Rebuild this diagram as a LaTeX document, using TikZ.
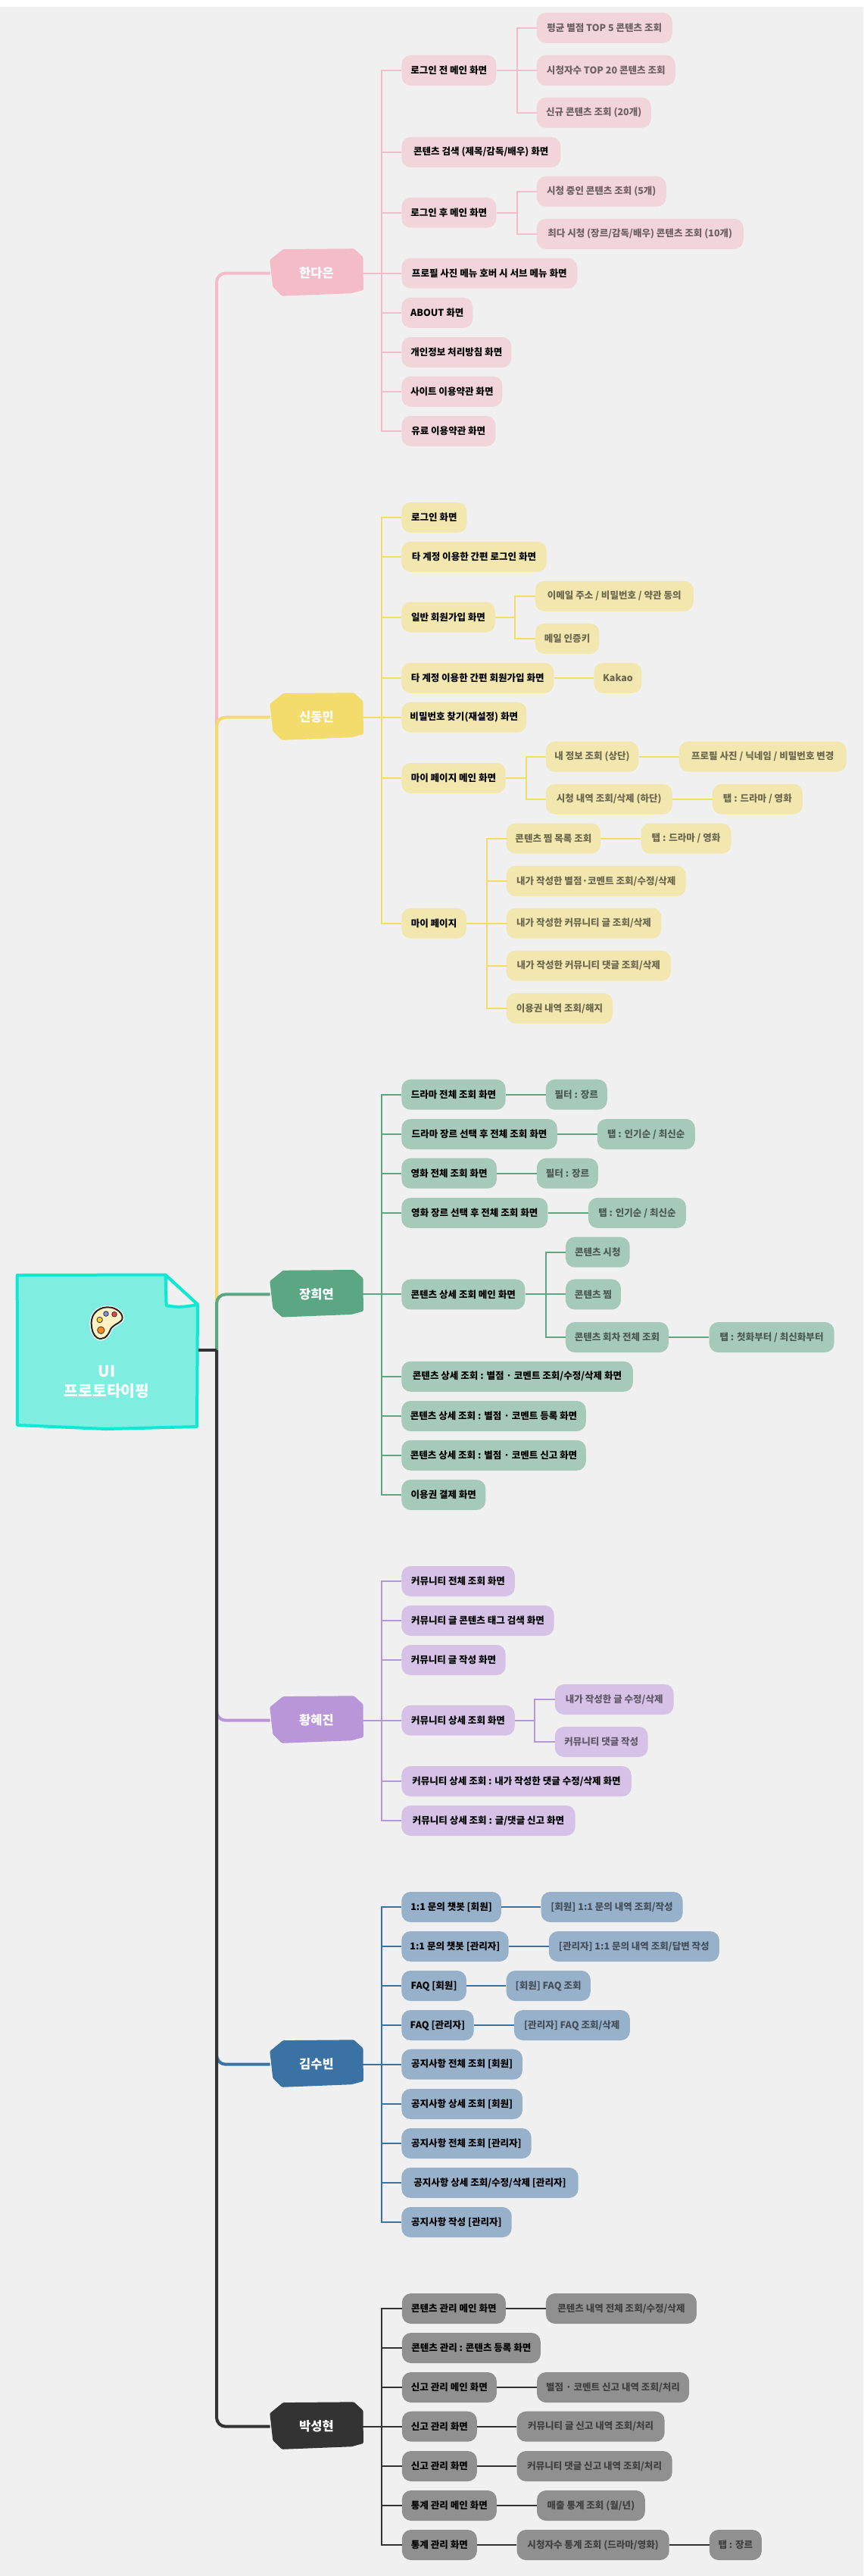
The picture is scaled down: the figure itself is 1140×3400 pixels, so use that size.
\documentclass[tikz,border=0pt]{standalone}
\usepackage{fontspec}
\setmainfont{Noto Sans CJK KR}
\definecolor{bgcol}{HTML}{F0F0F0}
\definecolor{pinkline}{HTML}{F4BBC8}
\definecolor{pinkfill}{HTML}{F2D5DB}
\definecolor{yellowline}{HTML}{F3DC6B}
\definecolor{yellowfill}{HTML}{F2E7AE}
\definecolor{greenline}{HTML}{5BA783}
\definecolor{greenfill}{HTML}{A6CAB9}
\definecolor{purpleline}{HTML}{B996D8}
\definecolor{purplefill}{HTML}{D5C2E6}
\definecolor{blueline}{HTML}{3B72A4}
\definecolor{bluefill}{HTML}{97B1CB}
\definecolor{darkline}{HTML}{333333}
\definecolor{darkfill}{HTML}{909090}
\definecolor{rootline}{HTML}{0FE8D2}
\definecolor{rootfill}{HTML}{80EDE1}
\definecolor{palettefill}{HTML}{FFF2C4}
\definecolor{dotblue}{HTML}{7A90E0}
\definecolor{dotred}{HTML}{EE4040}
\definecolor{dotyellow}{HTML}{FFCC22}
\definecolor{dotorange}{HTML}{FF8C1A}
\tikzset{
	box/.style={anchor=west,rounded corners=9pt,minimum height=30pt,inner xsep=1pt,inner ysep=0pt,
		font=\bfseries\fontsize{9.4pt}{11pt}\selectfont},
	wd/.style={minimum width=#1*0.75pt},
	main/.style={box,fill=#1},
	sub/.style={box,fill=#1,text opacity=0.55},
	headbox/.style={minimum width=91.5pt,minimum height=46.5pt,inner sep=0pt,text=white,
		font=\bfseries\fontsize{12.4pt}{14pt}\selectfont},
	link/.style={line width=1.5pt,draw=#1},
	trunk/.style={line width=3pt,draw=#1,rounded corners=9pt},
}

\begin{document}
\begin{tikzpicture}[x=0.75pt,y=-0.75pt]
\useasboundingbox (0,0) rectangle (1140,3400);
\fill[white] (0,0) rectangle (1140,9);
\fill[bgcol] (0,9) rectangle (1140,3400);

% root note
\draw[rootline,fill=rootfill,line width=3pt,line join=round] (22.7,1683) -- (218.3,1682.5) -- (261,1721.7) -- (260,1883) -- (140,1886) -- (23,1881) -- cycle;
\draw[rootline,fill=bgcol,line width=3pt,line join=round] (218.6,1683) -- (219.6,1723) .. controls (233,1726) and (247,1725) .. (261,1721.7) -- cycle;
\node[text=white,align=center,font=\bfseries\fontsize{15.3pt}{19.5pt}\selectfont] (rootlabel) at (141,1824) {UI\\프로토타이핑};
\coordinate (rootout) at (262,1782);
\coordinate (hub) at (286,1782);

% palette
\draw[draw=white,line width=3.4pt,fill=white] (120.7,1747.3) .. controls (120,1731.7) and (133.3,1723.3) .. (146.7,1725.7) .. controls (158.3,1727.7) and (165,1738.3) .. (160,1743.3) .. controls (155,1748.3) and (148.3,1748.3) .. (145,1756.7) .. controls (141.7,1765) and (135,1769.3) .. (128.3,1765.7) .. controls (123.3,1762.7) and (121,1755.3) .. cycle;
\draw[draw=black!85,line width=1.5pt,fill=palettefill] (120.7,1747.3) .. controls (120,1731.7) and (133.3,1723.3) .. (146.7,1725.7) .. controls (158.3,1727.7) and (165,1738.3) .. (160,1743.3) .. controls (155,1748.3) and (148.3,1748.3) .. (145,1756.7) .. controls (141.7,1765) and (135,1769.3) .. (128.3,1765.7) .. controls (123.3,1762.7) and (121,1755.3) .. cycle;
\draw[black!80,fill=dotblue,line width=0.6pt] (140,1734) circle (3.3);
\draw[black!80,fill=dotred,line width=0.6pt] (151,1734.7) circle (3.3);
\draw[black!80,fill=dotyellow,line width=0.6pt] (131.7,1742) circle (3.7);
\draw[black!80,fill=dotorange,line width=0.6pt] (133.3,1755.7) circle (4.7);

% heads
\foreach \nm/\yy/\col/\txt in {l1/360.6/pinkline/한다은,l2/946.7/yellowline/신동민,l3/1708.4/greenline/장희연,l4/2270.7/purpleline/황혜진,l5/2724.7/blueline/김수빈,l6/3202.7/darkline/박성현}{
	\fill[\col,rounded corners=1pt,shift={(418,\yy)}] (-61.7,-17.4) -- (-44.3,-31.6) -- (49.4,-32.4) -- (61.5,-21.3) -- (61.9,22.2) -- (46.3,26.5) -- (-45.7,30.1) -- (-57.7,18.2) -- cycle;
	\node[headbox] (\nm) at (418,\yy) {\raisebox{-1.5pt}{\txt}};
}

% 한다은
\node[main=pinkfill,wd=125] (a1) at (530,92.9) {로그인 전 메인 화면};
\node[main=pinkfill,wd=210] (a2) at (530,200.9) {콘텐츠 검색 (제목/감독/배우) 화면};
\node[main=pinkfill,wd=125] (a3) at (530,280.7) {로그인 후 메인 화면};
\node[main=pinkfill,wd=232] (a4) at (530,360.6) {프로필 사진 메뉴 호버 시 서브 메뉴 화면};
\node[main=pinkfill,wd=94] (a5) at (530,412.8) {ABOUT 화면};
\node[main=pinkfill,wd=145] (a6) at (530,465) {개인정보 처리방침 화면};
\node[main=pinkfill,wd=133] (a7) at (530,516.8) {사이트 이용약관 화면};
\node[main=pinkfill,wd=124] (a8) at (530,569) {유료 이용약관 화면};
\node[sub=pinkfill,wd=179] (a11) at (708.5,36.8) {평균 별점 TOP 5 콘텐츠 조회};
\node[sub=pinkfill,wd=183] (a12) at (708.5,92.9) {시청자수 TOP 20 콘텐츠 조회};
\node[sub=pinkfill,wd=151] (a13) at (708.5,148.7) {신규 콘텐츠 조회 (20개)};
\node[sub=pinkfill,wd=171] (a31) at (708.5,252.7) {시청 중인 콘텐츠 조회 (5개)};
\node[sub=pinkfill,wd=273] (a32) at (708.5,308.8) {최다 시청 (장르/감독/배우) 콘텐츠 조회 (10개)};
\foreach \n in {1,...,8}
	\draw[link=pinkline] (l1.east) -- ++(24.5,0) |- (a\n.west);
\foreach \n in {a11,a12,a13}
	\draw[link=pinkline] (a1.east) -- ++(27,0) |- (\n.west);
\foreach \n in {a31,a32}
	\draw[link=pinkline] (a3.east) -- ++(27,0) |- (\n.west);

% 신동민
\node[main=yellowfill,wd=86] (b1) at (530,683) {로그인 화면};
\node[main=yellowfill,wd=191.5] (b2) at (530,734.9) {타 계정 이용한 간편 로그인 화면};
\node[main=yellowfill,wd=123.5] (b3) at (530,814.6) {일반 회원가입 화면};
\node[main=yellowfill,wd=201] (b4) at (530,894.8) {타 계정 이용한 간편 회원가입 화면};
\node[main=yellowfill,wd=165] (b5) at (530,946.7) {비밀번호 찾기(재설정) 화면};
\node[main=yellowfill,wd=137.4] (b6) at (530,1027) {마이 페이지 메인 화면};
\node[main=yellowfill,wd=85.5] (b7) at (530,1218.6) {마이 페이지};
\node[sub=yellowfill,wd=209] (b31) at (706.5,786.8) {이메일 주소 / 비밀번호 / 약관 동의};
\node[sub=yellowfill,wd=84.5] (b32) at (706.5,842.9) {메일 인증키};
\node[sub=yellowfill,wd=63] (b41) at (784.2,894.8) {Kakao};
\node[sub=yellowfill,wd=122.5] (b61) at (720.5,998.7) {내 정보 조회 (상단)};
\node[sub=yellowfill,wd=220.7] (b611) at (896.7,998.7) {프로필 사진 / 닉네임 / 비밀번호 변경};
\node[sub=yellowfill,wd=167] (b62) at (720.5,1054.8) {시청 내역 조회/삭제 (하단)};
\node[sub=yellowfill,wd=119] (b621) at (940.6,1054.8) {탭 : 드라마 / 영화};
\node[sub=yellowfill,wd=124.3] (b71) at (668.5,1106.7) {콘텐츠 찜 목록 조회};
\node[sub=yellowfill,wd=119] (b711) at (846.3,1106.7) {탭 : 드라마 / 영화};
\node[sub=yellowfill,wd=237] (b72) at (668.5,1162.9) {내가 작성한 별점·코멘트 조회/수정/삭제};
\node[sub=yellowfill,wd=204.6] (b73) at (668.5,1218.6) {내가 작성한 커뮤니티 글 조회/삭제};
\node[sub=yellowfill,wd=217] (b74) at (668.5,1274.7) {내가 작성한 커뮤니티 댓글 조회/삭제};
\node[sub=yellowfill,wd=140.3] (b75) at (668.5,1330.9) {이용권 내역 조회/해지};
\foreach \n in {1,...,7}
	\draw[link=yellowline] (l2.east) -- ++(24.5,0) |- (b\n.west);
\foreach \n in {b31,b32}
	\draw[link=yellowline] (b3.east) -- ++(26.3,0) |- (\n.west);
\foreach \n in {b61,b62}
	\draw[link=yellowline] (b6.east) -- ++(26.8,0) |- (\n.west);
\foreach \n in {b71,b72,b73,b74,b75}
	\draw[link=yellowline] (b7.east) -- ++(26.8,0) |- (\n.west);
\foreach \a/\b in {b4/b41,b61/b611,b62/b621,b71/b711}
	\draw[link=yellowline] (\a) -- (\b);

% 장희연
\node[main=greenfill,wd=137.4] (c1) at (530,1444.7) {드라마 전체 조회 화면};
\node[main=greenfill,wd=205.5] (c2) at (530,1496.9) {드라마 장르 선택 후 전체 조회 화면};
\node[main=greenfill,wd=125.7] (c3) at (530,1548.7) {영화 전체 조회 화면};
\node[main=greenfill,wd=193] (c4) at (530,1600.9) {영화 장르 선택 후 전체 조회 화면};
\node[main=greenfill,wd=163] (c5) at (530,1708.4) {콘텐츠 상세 조회 메인 화면};
\node[main=greenfill,wd=305.6] (c6) at (530,1816.8) {콘텐츠 상세 조회 : 별점 · 코멘트 조회/수정/삭제 화면};
\node[main=greenfill,wd=243.5] (c7) at (530,1869) {콘텐츠 상세 조회 : 별점 · 코멘트 등록 화면};
\node[main=greenfill,wd=243.5] (c8) at (530,1920.8) {콘텐츠 상세 조회 : 별점 · 코멘트 신고 화면};
\node[main=greenfill,wd=111] (c9) at (530,1973) {이용권 결제 화면};
\node[sub=greenfill,wd=81] (c11) at (720.5,1444.7) {필터 : 장르};
\node[sub=greenfill,wd=129] (c21) at (788.5,1496.9) {탭 : 인기순 / 최신순};
\node[sub=greenfill,wd=81] (c31) at (708.7,1548.7) {필터 : 장르};
\node[sub=greenfill,wd=129] (c41) at (776.7,1600.9) {탭 : 인기순 / 최신순};
\node[sub=greenfill,wd=84.6] (c51) at (746.7,1652.7) {콘텐츠 시청};
\node[sub=greenfill,wd=73] (c52) at (746.7,1708.4) {콘텐츠 찜};
\node[sub=greenfill,wd=136] (c53) at (746.7,1765) {콘텐츠 회차 전체 조회};
\node[sub=greenfill,wd=165] (c531) at (936.3,1765) {탭 : 첫화부터 / 최신화부터};
\foreach \n in {1,...,9}
	\draw[link=greenline] (l3.east) -- ++(24.5,0) |- (c\n.west);
\foreach \n in {c51,c52,c53}
	\draw[link=greenline] (c5.east) -- ++(27,0) |- (\n.west);
\foreach \a/\b in {c1/c11,c2/c21,c3/c31,c4/c41,c53/c531}
	\draw[link=greenline] (\a) -- (\b);

% 황혜진
\node[main=purplefill,wd=149.5] (d1) at (530,2087) {커뮤니티 전체 조회 화면};
\node[main=purplefill,wd=201.3] (d2) at (530,2139) {커뮤니티 글 콘텐츠 태그 검색 화면};
\node[main=purplefill,wd=137.4] (d3) at (530,2191) {커뮤니티 글 작성 화면};
\node[main=purplefill,wd=149.5] (d4) at (530,2270.7) {커뮤니티 상세 조회 화면};
\node[main=purplefill,wd=303.5] (d5) at (530,2351) {커뮤니티 상세 조회 : 내가 작성한 댓글 수정/삭제 화면};
\node[main=purplefill,wd=229.4] (d6) at (530,2403) {커뮤니티 상세 조회 : 글/댓글 신고 화면};
\node[sub=purplefill,wd=156.7] (d41) at (732.6,2243) {내가 작성한 글 수정/삭제};
\node[sub=purplefill,wd=122.8] (d42) at (732.6,2299) {커뮤니티 댓글 작성};
\foreach \n in {1,...,6}
	\draw[link=purpleline] (l4.east) -- ++(24.5,0) |- (d\n.west);
\foreach \n in {d41,d42}
	\draw[link=purpleline] (d4.east) -- ++(26.3,0) |- (\n.west);

% 김수빈
\node[main=bluefill,wd=131.6] (e1) at (530,2517) {1:1 문의 챗봇 [회원]};
\node[main=bluefill,wd=141.4] (e2) at (530,2569) {1:1 문의 챗봇 [관리자]};
\node[main=bluefill,wd=85.6] (e3) at (530,2621) {FAQ [회원]};
\node[main=bluefill,wd=95.4] (e4) at (530,2673) {FAQ [관리자]};
\node[main=bluefill,wd=159.7] (e5) at (530,2724.7) {공지사항 전체 조회 [회원]};
\node[main=bluefill,wd=159.7] (e6) at (530,2777) {공지사항 상세 조회 [회원]};
\node[main=bluefill,wd=171.3] (e7) at (530,2829) {공지사항 전체 조회 [관리자]};
\node[main=bluefill,wd=233.4] (e8) at (530,2881) {공지사항 상세 조회/수정/삭제 [관리자]};
\node[main=bluefill,wd=145.4] (e9) at (530,2933) {공지사항 작성 [관리자]};
\node[sub=bluefill,wd=187] (e11) at (714.3,2517) {[회원] 1:1 문의 내역 조회/작성};
\node[sub=bluefill,wd=225] (e21) at (724.6,2569) {[관리자] 1:1 문의 내역 조회/답변 작성};
\node[sub=bluefill,wd=111.2] (e31) at (668.3,2621) {[회원] FAQ 조회};
\node[sub=bluefill,wd=153] (e41) at (678.6,2673) {[관리자] FAQ 조회/삭제};
\foreach \n in {1,...,9}
	\draw[link=blueline] (l5.east) -- ++(24.5,0) |- (e\n.west);
\foreach \a/\b in {e1/e11,e2/e21,e3/e31,e4/e41}
	\draw[link=blueline] (\a) -- (\b);

% 박성현
\node[main=darkfill,wd=137] (f1) at (530.6,3047) {콘텐츠 관리 메인 화면};
\node[main=darkfill,wd=183] (f2) at (530.6,3099) {콘텐츠 관리 : 콘텐츠 등록 화면};
\node[main=darkfill,wd=125] (f3) at (530.6,3151) {신고 관리 메인 화면};
\node[main=darkfill,wd=99] (f4) at (530.6,3202.7) {신고 관리 화면};
\node[main=darkfill,wd=99] (f5) at (530.6,3255) {신고 관리 화면};
\node[main=darkfill,wd=125] (f6) at (530.6,3307) {통계 관리 메인 화면};
\node[main=darkfill,wd=99] (f7) at (530.6,3359) {통계 관리 화면};
\node[sub=darkfill,wd=199] (f11) at (720.7,3047) {콘텐츠 내역 전체 조회/수정/삭제};
\node[sub=darkfill,wd=201] (f31) at (708.8,3151) {별점 · 코멘트 신고 내역 조회/처리};
\node[sub=darkfill,wd=195] (f41) at (682.4,3202.7) {커뮤니티 글 신고 내역 조회/처리};
\node[sub=darkfill,wd=205] (f51) at (682.4,3255) {커뮤니티 댓글 신고 내역 조회/처리};
\node[sub=darkfill,wd=142.7] (f61) at (708.8,3307) {매출 통계 조회 (월/년)};
\node[sub=darkfill,wd=201] (f71) at (682.4,3359) {시청자수 통계 조회 (드라마/영화)};
\node[sub=darkfill,wd=69] (f711) at (936.6,3359) {탭 : 장르};
\foreach \n in {1,...,7}
	\draw[link=darkline] (l6.east) -- ++(24.5,0) |- (f\n.west);
\foreach \a/\b in {f1/f11,f3/f31,f4/f41,f5/f51,f6/f61,f7/f71,f71/f711}
	\draw[link=darkline] (\a) -- (\b);

% trunks
\draw[trunk=pinkline] (hub) |- (l1.west);
\draw[trunk=yellowline] (hub) |- (l2.west);
\draw[trunk=greenline] (hub) |- (l3.west);
\draw[trunk=purpleline] (hub) |- (l4.west);
\draw[trunk=blueline] (hub) |- (l5.west);
\draw[trunk=darkline] (hub) |- (l6.west);
\draw[trunk=darkline] (rootout) -- (hub);

\end{tikzpicture}
\end{document}
